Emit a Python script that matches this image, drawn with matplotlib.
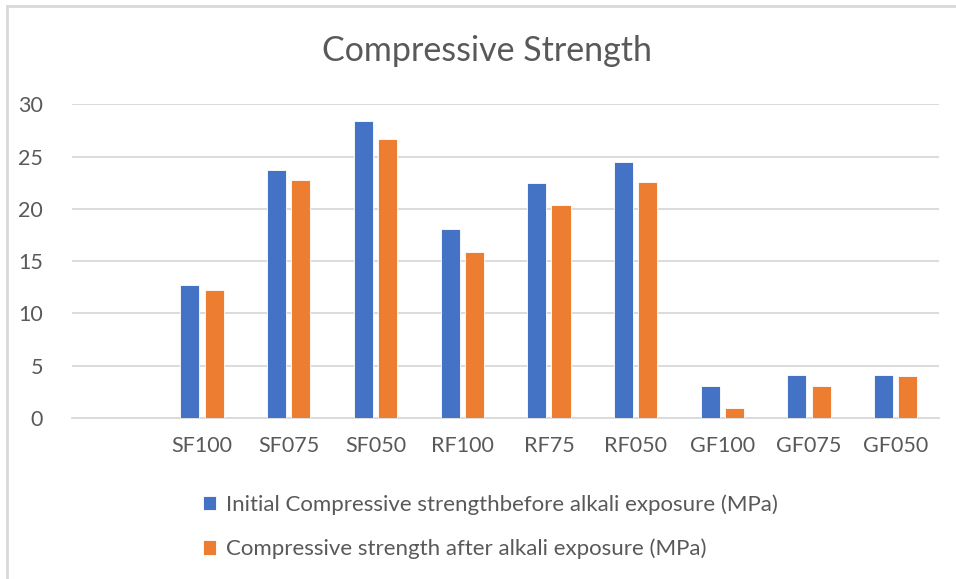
import matplotlib
matplotlib.use('Agg')
import matplotlib.pyplot as plt
import numpy as np

# mix designs (first slot left empty on the axis)
mixes = ['', 'SF100', 'SF075', 'SF050', 'RF100', 'RF75', 'RF050', 'GF100', 'GF075', 'GF050']

# compressive strength, MPa
before_alkali = [0, 12.75, 23.75, 28.4, 18.05, 22.5, 24.5, 3.1, 4.15, 4.15]
after_alkali  = [0, 12.25, 22.8, 26.7, 15.85, 20.35, 22.6, 1.0, 3.1, 4.0]

label_before = 'Initial Compressive strengthbefore alkali exposure (MPa)'
label_after  = 'Compressive strength after alkali exposure (MPa)'

blue   = '#4472c4'
orange = '#ed7d31'
grey   = '#595959'
gridc  = '#d9d9d9'

plt.rcParams['font.family'] = ['Lato', 'DejaVu Sans']

fig = plt.figure(figsize=(9.56, 5.79), dpi=100)
ax  = fig.add_axes([0.0753, 0.278, 0.907, 0.542])

x  = np.arange(len(mixes))
bw = 0.22
gap = 0.06

plt.bar(x + 0.5 - (bw + gap) / 2, before_alkali, width=bw, color=blue,
        edgecolor='white', linewidth=0.6, label=label_before, zorder=3)
plt.bar(x + 0.5 + (bw + gap) / 2, after_alkali, width=bw, color=orange,
        edgecolor='white', linewidth=0.6, label=label_after, zorder=3)

ax.set_xlim(0, len(mixes))
ax.set_ylim(0, 30)
ax.set_yticks(range(0, 31, 5))
ax.set_xticks(x + 0.5)
ax.set_xticklabels(mixes)
ax.grid(axis='y', color=gridc, linewidth=1.3, zorder=0)
ax.tick_params(axis='both', length=0, labelsize=15.5, labelcolor=grey)
ax.tick_params(axis='x', pad=13)
ax.tick_params(axis='y', pad=21)
for s in ['top', 'right', 'left']:
    ax.spines[s].set_visible(False)
ax.spines['bottom'].set_color(gridc)
ax.spines['bottom'].set_linewidth(1.3)

fig.text(0.509, 0.912, 'Compressive Strength', ha='center', va='center',
         fontsize=24.5, color=grey)

leg = fig.legend(loc='upper left', bbox_to_anchor=(0.203, 0.162),
                 bbox_transform=fig.transFigure, frameon=False, fontsize=16,
                 handlelength=0.6, handleheight=0.6, handletextpad=0.45,
                 labelspacing=1.08, borderaxespad=0)
for t in leg.get_texts():
    t.set_color(grey)

# outer chart frame
fig.add_artist(plt.Line2D([0.0075, 1.0], [0.99, 0.99], color=gridc, lw=2,
                          transform=fig.transFigure))
fig.add_artist(plt.Line2D([0.0075, 0.0075], [0.0, 0.99], color=gridc, lw=2,
                          transform=fig.transFigure))

plt.savefig('out.png', dpi=100)
